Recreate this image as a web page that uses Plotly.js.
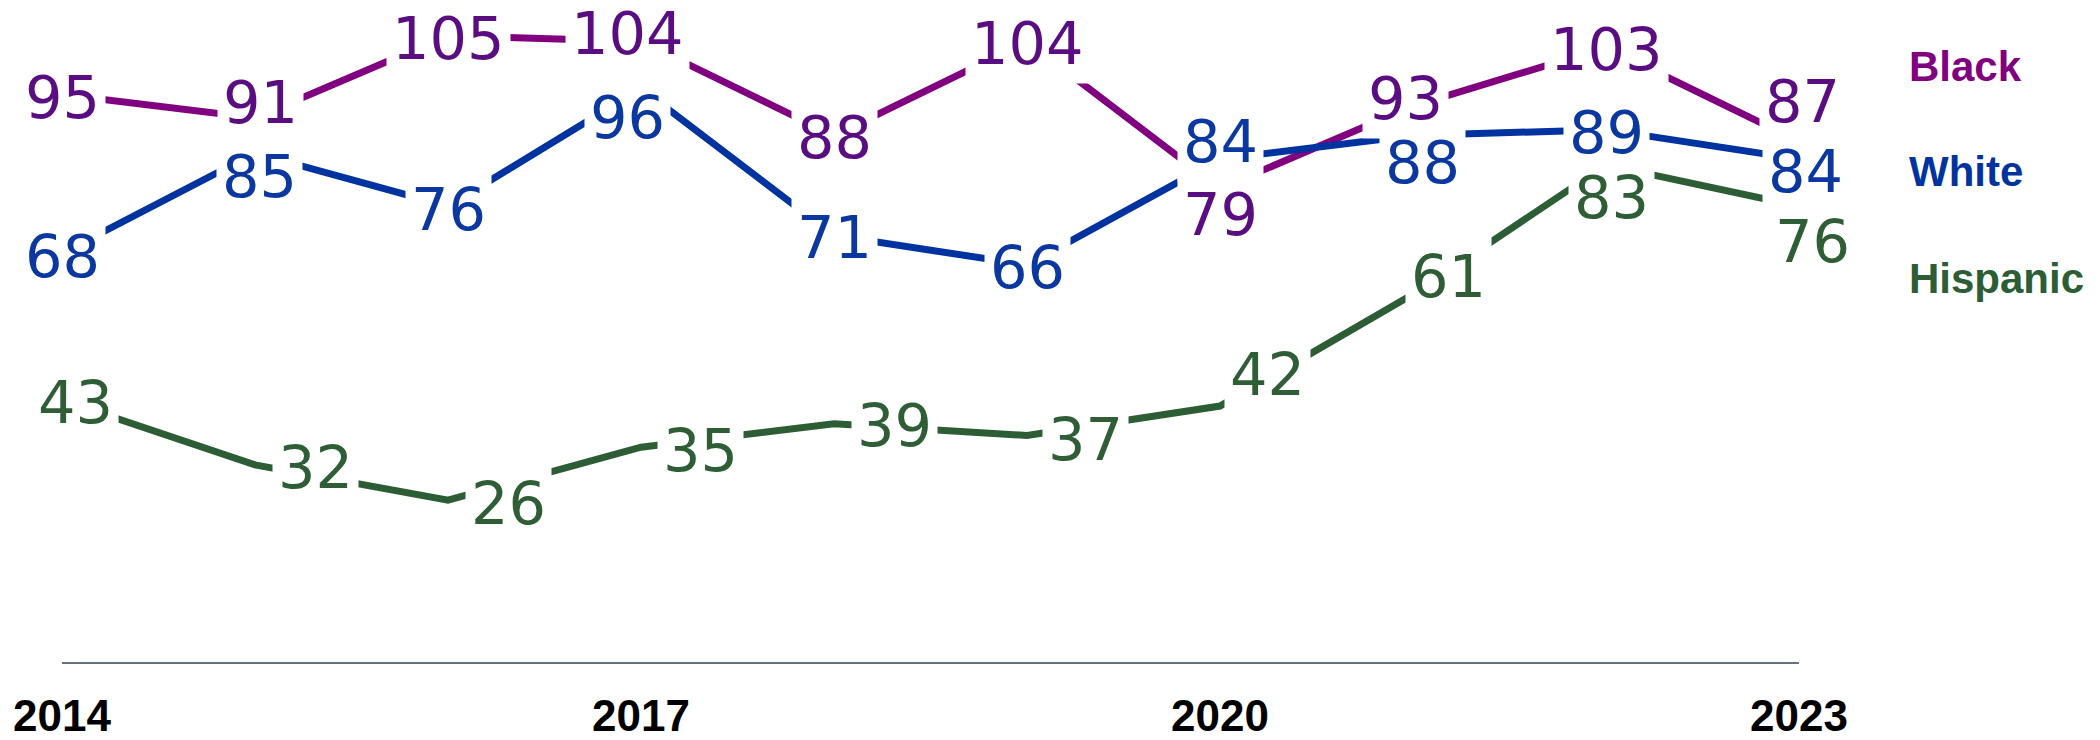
<!DOCTYPE html>
<html>
<head>
<meta charset="utf-8">
<script src="https://cdn.plot.ly/plotly-3.0.1.min.js"></script>
<style>
  html, body { margin: 0; padding: 0; background: #ffffff; }
  #chart { width: 2100px; height: 740px; }
</style>
</head>
<body>
<div id="chart"></div>
<script>
// ---- data ----
const years = [2014, 2015, 2016, 2017, 2018, 2019, 2020, 2021, 2022, 2023];
const black = [95, 91, 105, 104, 88, 104, 79, 93, 103, 87];
const white = [68, 85, 76, 96, 71, 66, 84, 88, 89, 84];
const hispanic = [43, 32, 26, 35, 39, 37, 42, 61, 83, 76];
const seriesNames = ['Black', 'White', 'Hispanic'];
const tickYears = [2014, 2017, 2020, 2023];
const tickLabels = ['2014', '2017', '2020', '2023'];

// ---- styles (label placement offsets in px, +dy = down) ----
const lineColors = ['#80007f', '#0032a0', '#2c5d35'];
const labelColors = ['#5a0d80', '#0a38a0', '#2e5d36'];
const nameColors = ['#800080', '#0033a0', '#2c5d35'];
const labelDx = [
  [0, 5, 0, -14, 0, 0, 0, -8, 0, 3],
  [0, 4, 0, -14, 0, 0, 0, 9, 0, 6],
  [13, 60, 60, 59, 60, 58, 47, 35, 5, 13]
];
const labelDy = [
  [2, -16, 2, -9, 1, 1, 25, -9, 1, -41],
  [2, 22, 2, 28, 1, 2, -19, 26, 2, 11],
  [1, 2, 2, 2, 1, 3, -33, -19, 32, 34]
];
const namePaperY = [0.913, 0.752, 0.588];

const values = [black, white, hispanic];

const traces = values.map((v, s) => ({
  x: years,
  y: v,
  type: 'scatter',
  mode: 'lines',
  name: seriesNames[s],
  line: { color: lineColors[s], width: 7 },
  hoverinfo: 'skip',
  showlegend: false
}));

const labelFont = 'DejaVu Sans, Liberation Sans, sans-serif';
const boldFont = 'Liberation Sans, Arial, sans-serif';

const boxes = [];
const texts = [];
values.forEach((v, s) => {
  v.forEach((val, i) => {
    const common = {
      x: years[i], y: val, xref: 'x', yref: 'y',
      text: String(val), showarrow: false,
      xanchor: 'center', yanchor: 'middle',
      xshift: labelDx[s][i], yshift: -labelDy[s][i] - 1
    };
    boxes.push(Object.assign({}, common, {
      font: { family: labelFont, size: 59, color: 'rgba(0,0,0,0)' },
      bgcolor: '#ffffff', borderpad: 5
    }));
    texts.push(Object.assign({}, common, {
      font: { family: labelFont, size: 59, color: labelColors[s] }
    }));
  });
});

const names = seriesNames.map((n, s) => ({
  x: 1.0622, y: namePaperY[s], xref: 'paper', yref: 'paper',
  xanchor: 'left', yanchor: 'middle', showarrow: false,
  text: '<b>' + n + '</b>',
  font: { family: boldFont, size: 42, color: nameColors[s] }
}));

const layout = {
  width: 2100, height: 740,
  margin: { l: 62, r: 301, t: 10, b: 78, pad: 0 },
  paper_bgcolor: '#ffffff', plot_bgcolor: '#ffffff',
  showlegend: false,
  xaxis: {
    range: [2014, 2023],
    tickvals: tickYears, ticktext: tickLabels,
    showgrid: false, zeroline: false,
    showline: true, linecolor: '#66727f', linewidth: 2,
    ticks: '', ticklabelstandoff: 14,
    tickfont: { family: boldFont, size: 44, color: '#000000', weight: 'bold' },
    fixedrange: true
  },
  yaxis: {
    range: [-1.53, 109.35],
    visible: false, showgrid: false, zeroline: false, fixedrange: true
  },
  annotations: boxes.concat(texts).concat(names)
};

Plotly.newPlot('chart', traces, layout, { staticPlot: true, displayModeBar: false });
</script>
</body>
</html>
